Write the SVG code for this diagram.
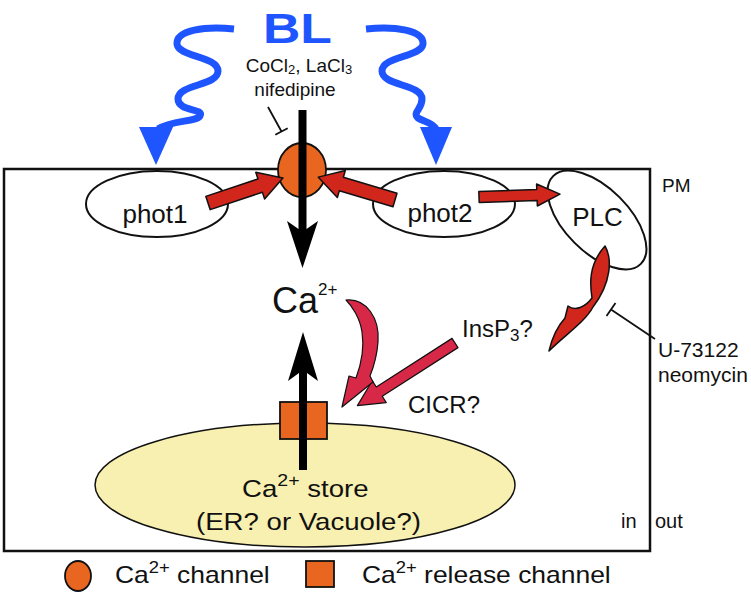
<svg xmlns="http://www.w3.org/2000/svg" width="751" height="592" viewBox="0 0 751 592">
<style>
text{font-family:"Liberation Sans",Arial,sans-serif;fill:#111}
.node{fill:#fff;stroke:#111;stroke-width:2}
.red{fill:#D0261C;stroke:#111;stroke-width:1.5;stroke-linejoin:round}
.pink{fill:#D82848;stroke:#111;stroke-width:1.2;stroke-linejoin:round}
.blue{fill:none;stroke:#1F55FF;stroke-width:7}
.bluehead{fill:#1F55FF}
.orange{fill:#E8661F;stroke:#111;stroke-width:1.8}
.blk{fill:#000}
.inh{stroke:#111;stroke-width:1.8;fill:none}
</style>
<rect id="cell" x="4" y="169" width="646" height="382" fill="none" stroke="#111" stroke-width="2.5"/>
<g id="store">
<ellipse cx="305" cy="485" rx="210" ry="62" fill="#F8F0B0" stroke="#111" stroke-width="1.5"/>
<text transform="translate(242,497) scale(1.15,1)" font-size="24">Ca<tspan font-size="17" dy="-11">2+</tspan><tspan dy="11"> store</tspan></text>
<text transform="translate(196,530) scale(1.15,1)" font-size="24">(ER? or Vacuole?)</text>
</g>
<g id="phot1"><ellipse class="node" cx="157" cy="204" rx="71" ry="33"/><text x="155" y="223" font-size="26" text-anchor="middle">phot1</text></g>
<g id="phot2"><ellipse class="node" cx="444" cy="204" rx="71" ry="33"/><text x="440" y="222" font-size="26" text-anchor="middle">phot2</text></g>
<g id="PLC"><ellipse class="node" cx="597" cy="220" rx="62" ry="32" transform="rotate(45 597 220)"/><text x="597.5" y="226" font-size="26" text-anchor="middle">PLC</text></g>
<g id="ca-channel"><ellipse class="orange" cx="302" cy="170" rx="24" ry="27"/></g>
<g id="release-channel"><rect class="orange" x="280" y="402" width="47" height="37"/></g>
<g id="BL">
<text x="263" y="43" font-size="42" font-weight="bold" style="fill:#1F55FF" textLength="69" lengthAdjust="spacingAndGlyphs">BL</text>
<path class="blue" d="M234,29 C205,26 176,30 177,44 C178,57 218,56 218,71 C218,86 178,84 178,99 C178,112 205,108 200,116 C196,122 172,120 158,129"/>
<polygon class="bluehead" points="139,127 173,127 156,165"/>
<path class="blue" d="M366,29 C395,26 424,30 423,44 C422,57 382,56 382,71 C382,86 422,84 422,99 C422,110 412,112 418,118 C424,122 432,122 436,129"/>
<polygon class="bluehead" points="420,127 452,127 436,165"/>
</g>
<g id="labels">
<text x="299" y="72" font-size="19" text-anchor="middle">CoCl<tspan font-size="13" dy="2">2</tspan><tspan dy="-2">, LaCl</tspan><tspan font-size="13" dy="2">3</tspan></text>
<text x="295" y="96" font-size="19" text-anchor="middle">nifedipine</text>
<text x="272" y="313" font-size="36">Ca<tspan font-size="17" dy="-18">2+</tspan></text>
<text x="462" y="337" font-size="24">InsP<tspan font-size="17" dy="4">3</tspan><tspan dy="-4">?</tspan></text>
<text x="408" y="413" font-size="24">CICR?</text>
<text x="658" y="357" font-size="21">U-73122</text>
<text x="658" y="382" font-size="21">neomycin</text>
<text x="662" y="192" font-size="19">PM</text>
<text x="621" y="528" font-size="20">in</text>
<text x="655" y="528" font-size="20">out</text>
</g>
<g id="connectors">
<path class="blk" d="M298.5,110 H306.5 V229 L318,221 L302.5,268 L287,221 L298.5,229 Z"/>
<path class="blk" d="M303,332 L318,381 L307,373 V470 H299 V373 L288,381 Z"/>
<polygon class="red" transform="translate(208,203) rotate(-18.4)" points="0,-7 55,-7 55,-14 79,0 55,14 55,7 0,7"/>
<polygon class="red" transform="translate(395,200) rotate(-163.4)" points="0,-7 56,-7 56,-14 80,0 56,14 56,7 0,7"/>
<polygon class="red" transform="translate(479,197) rotate(-2)" points="0,-5.5 58,-5.5 58,-11 81,0 58,11 58,5.5 0,5.5"/>
<path class="red" d="M605,246 C612,258 612,282 593,307 C585,322 565,335 549,351 C552,338 556,328 565,318 L568,306 C576,312 586,306 592,298 C590,285 588,265 605,246 Z"/>
<polygon class="pink" transform="translate(455,343) rotate(147.3)" points="0,-5.5 90,-5.5 90,-13 116,0 90,13 90,5.5 0,5.5"/>
<path class="pink" d="M346,300 C366,298 380,318 378,342 C377,356 374,366 370,376 L373,382 L342,407 L349,376 L356,378 C362,362 364,345 362,332 C360,318 352,306 346,300 Z"/>
<path class="inh" d="M268,107 L281.5,131.5 M275.3,134.8 L287.7,128.2"/>
<path class="inh" d="M655,339 L611,309.5 M606.5,316 L615.5,303"/>
</g>
<g id="legend">
<ellipse class="orange" cx="78" cy="576" rx="13" ry="15"/>
<text transform="translate(115,583) scale(1.15,1)" font-size="23">Ca<tspan font-size="16" dy="-10">2+</tspan><tspan dy="10"> channel</tspan></text>
<rect class="orange" x="306" y="561" width="28" height="26"/>
<text transform="translate(362,583) scale(1.15,1)" font-size="23">Ca<tspan font-size="16" dy="-10">2+</tspan><tspan dy="10"> release channel</tspan></text>
</g>
</svg>
